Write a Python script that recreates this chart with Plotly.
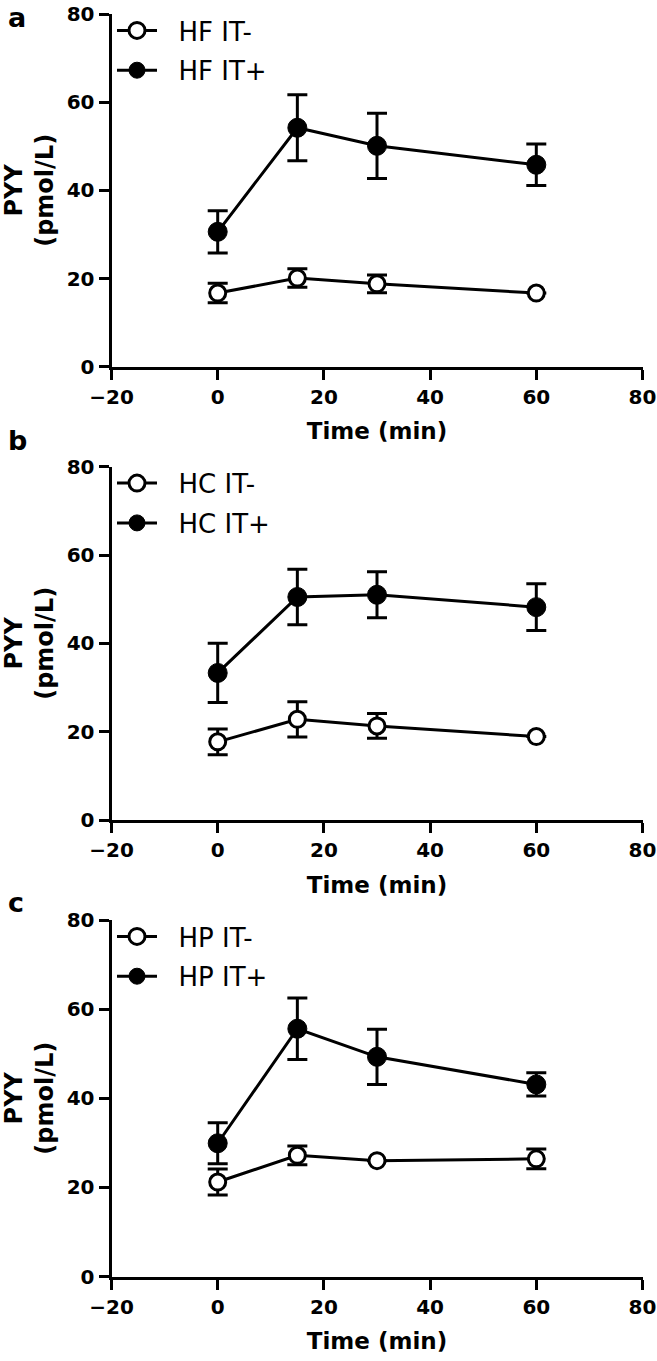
import plotly.graph_objects as go

# ---------------- data ----------------
time_min = [0, 15, 30, 60]

hf_minus = [16.7, 20.1, 18.8, 16.7]
hf_minus_sem = [2.2, 2.1, 2.0, None]
hf_plus = [30.6, 54.2, 50.1, 45.8]
hf_plus_sem = [4.8, 7.5, 7.4, 4.7]

hc_minus = [17.7, 22.8, 21.3, 18.9]
hc_minus_sem = [2.9, 4.0, 2.8, None]
hc_plus = [33.3, 50.5, 51.0, 48.2]
hc_plus_sem = [6.7, 6.3, 5.2, 5.3]

hp_minus = [21.2, 27.2, 26.0, 26.4]
hp_minus_sem = [2.9, 2.1, None, 2.2]
hp_plus = [29.9, 55.6, 49.3, 43.1]
hp_plus_sem = [4.6, 6.9, 6.2, 2.6]

panel_letters = ["a", "b", "c"]
legend_names = [["HF IT-", "HF IT+"], ["HC IT-", "HC IT+"], ["HP IT-", "HP IT+"]]
series = [
    (hf_minus, hf_minus_sem, hf_plus, hf_plus_sem),
    (hc_minus, hc_minus_sem, hc_plus, hc_plus_sem),
    (hp_minus, hp_minus_sem, hp_plus, hp_plus_sem),
]
x_ticks = [-20, 0, 20, 40, 60, 80]
y_ticks = [0, 20, 40, 60, 80]
x_title = "Time (min)"
y_title = "PYY<br>(pmol/L)"

# ---------------- layout geometry ----------------
W, H = 657, 1361


def px_x(x):
    return x / W


def px_y(y):
    return 1 - y / H


x_dom = [px_x(111.5), px_x(642.5)]
panel_px = [(14, 366.7), (466.7, 820), (920, 1276.5)]  # top, bottom in page px
# (y position in page px, anchor) for the panel letters
letter_pos = [(0, "top"), (458, "bottom"), (920, "bottom")]

FONT = "DejaVu Sans"
BOLD_TICK = dict(family=FONT, size=20, color="black", weight="bold")
BOLD_XTITLE = dict(family=FONT, size=23, color="black", weight="bold")
BOLD_YTITLE = dict(family=FONT, size=24, color="black", weight="bold")
PAD = "\u00a0\u00a0"

fig = go.Figure()
layout = dict(
    width=W, height=H,
    margin=dict(l=0, r=0, t=0, b=0),
    paper_bgcolor="white", plot_bgcolor="white",
    showlegend=True,
)
annotations = []

for i, (m, msem, p, psem) in enumerate(series):
    ax_sfx = "" if i == 0 else str(i + 1)
    xa = "x" + ax_sfx
    ya = "y" + ax_sfx
    leg = "legend" if i == 0 else "legend" + str(i + 1)

    fig.add_trace(go.Scatter(
        x=time_min, y=m, name=PAD + legend_names[i][0], xaxis=xa, yaxis=ya,
        legend=leg, legendgroup=f"g{i}a",
        mode="lines+markers",
        line=dict(color="black", width=3),
        marker=dict(symbol="circle", size=16, color="white",
                    line=dict(color="black", width=3)),
        error_y=dict(type="data", array=msem, visible=True,
                     color="black", thickness=3, width=10),
    ))
    fig.add_trace(go.Scatter(
        x=time_min, y=p, name=PAD + legend_names[i][1], xaxis=xa, yaxis=ya,
        legend=leg, legendgroup=f"g{i}b",
        mode="lines+markers",
        line=dict(color="black", width=3),
        marker=dict(symbol="circle", size=19, color="black",
                    line=dict(color="black", width=1)),
        error_y=dict(type="data", array=psem, visible=True,
                     color="black", thickness=3, width=10),
    ))

    top, bot = panel_px[i]
    y_dom = [px_y(bot), px_y(top)]
    xkey = "xaxis" + ax_sfx
    ykey = "yaxis" + ax_sfx
    layout[xkey] = dict(
        domain=x_dom, anchor=ya, range=[-20, 80],
        tickmode="array", tickvals=x_ticks,
        ticks="outside", ticklen=10, tickwidth=3, tickcolor="black",
        showline=True, linewidth=3, linecolor="black",
        showgrid=False, zeroline=False, automargin=False,
        ticklabeloverflow="allow",
        tickfont=BOLD_TICK,
        title=dict(text=x_title, font=BOLD_XTITLE, standoff=16),
    )
    layout[ykey] = dict(
        domain=y_dom, anchor=xa, range=[0, 80],
        tickmode="array", tickvals=y_ticks,
        ticks="outside", ticklen=10, tickwidth=3, tickcolor="black",
        showline=True, linewidth=3, linecolor="black",
        showgrid=False, zeroline=False, automargin=False,
        ticklabeloverflow="allow",
        tickfont=BOLD_TICK,
        title=dict(text=y_title, font=BOLD_YTITLE, standoff=10),
    )
    layout[leg] = dict(
        x=px_x(112), y=px_y(top - 7), xanchor="left", yanchor="top",
        bgcolor="rgba(0,0,0,0)", borderwidth=0,
        font=dict(family=FONT, size=26, color="black"),
        tracegroupgap=3, itemwidth=40,
    )
    ly, lanchor = letter_pos[i]
    annotations.append(dict(
        text=panel_letters[i], xref="paper", yref="paper",
        x=px_x(6), y=px_y(ly),
        xanchor="left", yanchor=lanchor, showarrow=False,
        font=dict(family=FONT, size=27, color="black", weight="bold"),
    ))

layout["annotations"] = annotations
fig.update_layout(**layout)
fig.write_html(
    "out.html",
    config={"displayModeBar": False},
    post_script="document.body.style.margin='0';document.body.style.overflow='hidden';",
)
